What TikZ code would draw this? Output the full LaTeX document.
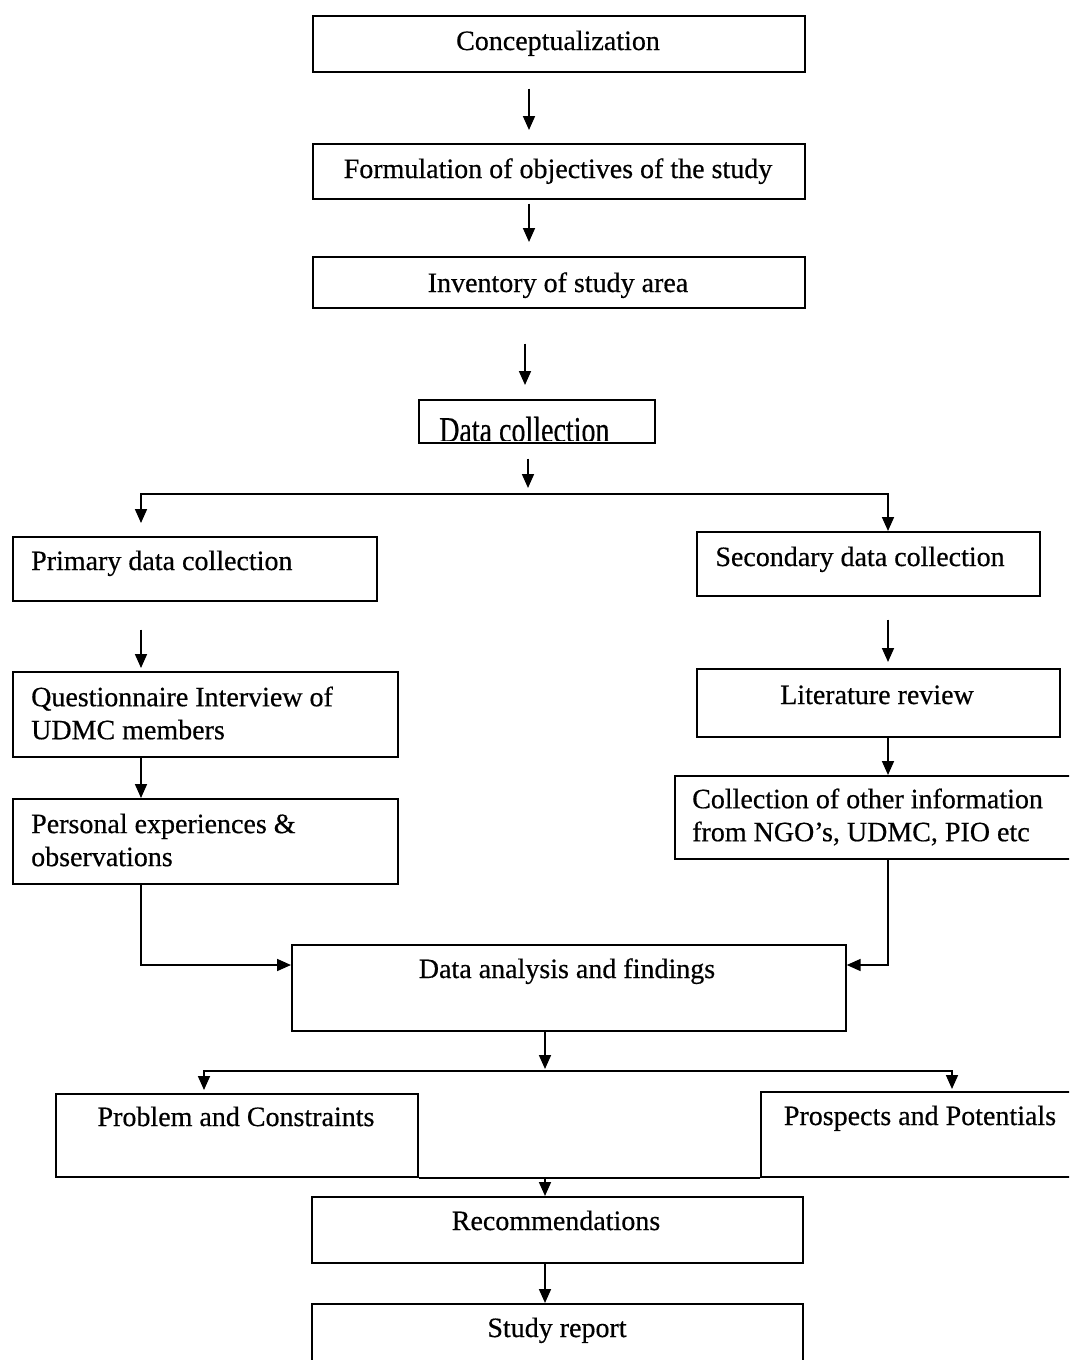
\documentclass[tikz,border=0pt]{standalone}
\usepackage{fontspec}
\setmainfont{Liberation Serif}[FakeBold=0.5]
\usetikzlibrary{arrows.meta,calc}
\tikzset{
  box/.style={draw, line width=1.7pt, inner sep=0pt, anchor=north west},
  lbl/.style={font=\fontsize{28}{33}\selectfont, inner sep=0pt},
  conn/.style={line width=1.7pt, -{Triangle[length=14pt,width=12pt]}},
  plainline/.style={line width=1.7pt},
}
\begin{document}
\begin{tikzpicture}[x=1pt,y=-1pt]
\useasboundingbox (0,0) rectangle (1069,1360);
\clip (0,0) rectangle (1069,1360);

% boxes
\node[box, minimum width=492pt, minimum height=56pt] (concept)   at (312,15) {};
\node[box, minimum width=492pt, minimum height=55pt] (formul)    at (312,143) {};
\node[box, minimum width=492pt, minimum height=51pt] (invent)    at (312,256) {};
\node[box, minimum width=236pt, minimum height=43pt] (datacol)   at (418,399) {};
\node[box, minimum width=364pt, minimum height=64pt] (primary)   at (12,536) {};
\node[box, minimum width=343pt, minimum height=64pt] (secondary) at (696,531) {};
\node[box, minimum width=385pt, minimum height=85pt] (quest)     at (12,671) {};
\node[box, minimum width=363pt, minimum height=68pt] (litrev)    at (696,668) {};
\node[box, minimum width=385pt, minimum height=85pt] (personal)  at (12,798) {};
\node[box, minimum width=410pt, minimum height=83pt] (collect)   at (674,775) {};
\node[box, minimum width=554pt, minimum height=86pt] (analysis)  at (291,944) {};
\node[box, minimum width=362pt, minimum height=83pt] (problem)   at (55,1093) {};
\node[box, minimum width=330pt, minimum height=85pt] (prospects) at (760,1091) {};
\node[box, minimum width=491pt, minimum height=66pt] (recomm)    at (311,1196) {};
\node[box, minimum width=491pt, minimum height=80pt] (report)    at (311,1303) {};

% texts
\node[lbl, anchor=base] (t-concept) at (558,50) {Conceptualization};
\node[lbl, anchor=base] (t-formul) at (558,178) {Formulation of objectives of the study};
\node[lbl, anchor=base] (t-invent) at (558,292) {Inventory of study area};
\begin{scope}
\clip (418,399) rectangle (654,440);
\node[lbl, anchor=base west] (t-datacol) at (439,442) {\scalebox{1}[1.3]{Data collection}};
\end{scope}
\node[lbl, anchor=base west] (t-primary) at (31,570) {Primary data collection};
\node[lbl, anchor=base] (t-secondary) at (860,566) {Secondary data collection};
\node[lbl, anchor=west, align=left] (t-quest) at (31,713) {Questionnaire Interview of\\UDMC members};
\node[lbl, anchor=base] (t-litrev) at (877,704) {Literature review};
\node[lbl, anchor=west, align=left] (t-personal) at (31,840) {Personal experiences \&\\observations};
\node[lbl, anchor=west, align=left] (t-collect) at (692,817) {Collection of other information\\from NGO's, UDMC, PIO etc};
\node[lbl, anchor=base] (t-analysis) at (567,978) {Data analysis and findings};
\node[lbl, anchor=base] (t-problem) at (236,1126) {Problem and Constraints};
\node[lbl, anchor=base] (t-prospects) at (920,1125) {Prospects and Potentials};
\node[lbl, anchor=base] (t-recomm) at (556,1230) {Recommendations};
\node[lbl, anchor=base] (t-report) at (557,1337) {Study report};

% guide coordinates
\coordinate (cA) at (529,0);
\coordinate (cB) at (525,0);
\coordinate (cL) at (141,0);
\coordinate (cR) at (888,0);
\coordinate (cP) at (204,0);
\coordinate (cQ) at (952,0);
\coordinate (s1) at (528,494);
\coordinate (jn) at (0,965);
\coordinate (s2) at (545,1071);

% connectors
\draw[conn, shorten <=16pt, shorten >=13pt] (concept.south -| cA) -- (formul.north -| cA);
\draw[conn, shorten <=4pt, shorten >=14pt] (formul.south -| cA) -- (invent.north -| cA);
\draw[conn, shorten <=35pt, shorten >=14pt] (invent.south -| cB) -- (datacol.north -| cB);
\draw[conn, shorten <=15pt, shorten >=6pt] (datacol.south -| s1) -- (s1);
\draw[conn, shorten >=13pt] (s1) -| (primary.north -| cL);
\draw[conn] (s1) -| (secondary.north -| cR);
\draw[conn, shorten <=28pt, shorten >=3pt] (primary.south -| cL) -- (quest.north -| cL);
\draw[conn] (quest.south -| cL) -- (personal.north -| cL);
\draw[conn, shorten <=23pt, shorten >=6pt] (secondary.south -| cR) -- (litrev.north -| cR);
\draw[conn] (litrev.south -| cR) -- (collect.north -| cR);
\draw[conn] (personal.south -| cL) |- (analysis.west |- jn);
\draw[conn] (collect.south -| cR) |- (analysis.east |- jn);
\draw[conn, shorten >=2pt] (analysis.south -| s2) -- (s2);
\draw[conn, shorten >=3pt] (s2) -| (problem.north -| cP);
\draw[conn, shorten >=2pt] (s2) -| (prospects.north -| cQ);
\draw[plainline] (problem.south east) -- (prospects.south west);
\draw[conn] (problem.south -| s2) -- (recomm.north -| s2);
\draw[conn] (recomm.south -| s2) -- (report.north -| s2);
\end{tikzpicture}
\end{document}
